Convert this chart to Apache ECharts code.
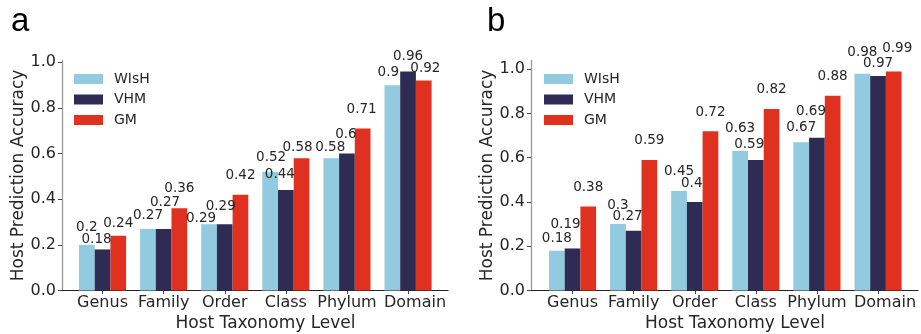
<!DOCTYPE html>
<html>
<head>
<meta charset="utf-8">
<script src="https://cdn.jsdelivr.net/npm/echarts@6/dist/echarts.min.js"></script>
<style>
  html, body { margin: 0; padding: 0; background: #fff; }
  #chart { width: 921px; height: 334px; }
</style>
</head>
<body>
<div id="chart"></div>
<script>
// data
const levels = ['Genus', 'Family', 'Order', 'Class', 'Phylum', 'Domain'];
const methods = ['WIsH', 'VHM', 'GM'];
const wishA = [0.2, 0.27, 0.29, 0.52, 0.58, 0.9];
const vhmA = [0.18, 0.27, 0.29, 0.44, 0.6, 0.96];
const gmA = [0.24, 0.36, 0.42, 0.58, 0.71, 0.92];
const wishB = [0.18, 0.3, 0.45, 0.63, 0.67, 0.98];
const vhmB = [0.19, 0.27, 0.4, 0.59, 0.69, 0.97];
const gmB = [0.38, 0.59, 0.72, 0.82, 0.88, 0.99];
const yTicks = [0, 0.2, 0.4, 0.6, 0.8, 1.0];

// label nudges [dx, height above bar top] in px, copied from the hand-placed labels
const nudgeA = [
  [[0, 12.7], [0, 8.4], [-8, 1.2], [1, 9.7], [-1, 6.1], [-4, 8.1]],
  [[-6, 4.7], [1.4, 21.7], [-4, 13.2], [-6, 10.7], [-1, 13.9], [0, 10.1]],
  [[0, 7.6], [0, 14.6], [0, 14.2], [-4, 6.1], [-1, 13.8], [1.6, 6.9]]
];
const nudgeB = [
  [[0, 6.8], [0, 13.6], [0, 14.4], [0, 17.9], [0, 9.7], [0, 16.4]],
  [[-7, 19.3], [-6, 9.2], [-3, 13.1], [-6.6, 10.8], [-6, 21.2], [0, 7.6]],
  [[0, 13.9], [0, 14.1], [0, 14], [0, 14.2], [0, 14.2], [3.5, 17.5]]
];

const colors = ['#92CBDF', '#2E2B55', '#E0301F'];
const FONT = 'DejaVu Sans';
const TXT = '#262626';

const chart = echarts.init(document.getElementById('chart'), null, { renderer: 'canvas' });

function outerAxes(gridIdx, yMax) {
  const x = {
    type: 'value', gridIndex: gridIdx, min: 0, max: 1,
    axisLine: { show: true, lineStyle: { color: '#222', width: 1.2 } },
    axisTick: { show: false }, axisLabel: { show: false }, splitLine: { show: false },
    name: 'Host Taxonomy Level', nameLocation: 'middle', nameGap: 25,
    nameTextStyle: { fontFamily: FONT, fontSize: 17, color: TXT, padding: [0, 0, 0, 21] }
  };
  const y = {
    type: 'value', gridIndex: gridIdx, min: 0, max: yMax,
    axisLine: { show: true, lineStyle: { color: '#999', width: 1.3 } },
    axisTick: { show: true, length: 4, customValues: yTicks, lineStyle: { color: '#444' } },
    axisLabel: { customValues: yTicks, margin: 6, fontFamily: FONT, fontSize: 16, color: TXT,
                 formatter: v => v.toFixed(1) },
    splitLine: { show: false },
    name: 'Host Prediction Accuracy', nameLocation: 'middle', nameGap: 35,
    nameTextStyle: { fontFamily: FONT, fontSize: 17, color: TXT }
  };
  return [x, y];
}

function innerAxes(gridIdx, yMax) {
  const x = {
    type: 'category', gridIndex: gridIdx, data: levels,
    axisLine: { show: false },
    axisTick: { show: true, interval: 0, alignWithLabel: true, length: 3.5, lineStyle: { color: '#444' } },
    axisLabel: {
      interval: 0, margin: 4, fontFamily: FONT, fontSize: 16, color: TXT,
      // the last label sits a little right of its tick in the original
      formatter: v => (v === 'Domain' ? '{d|' + v + '}' : v),
      rich: { d: { fontFamily: FONT, fontSize: 16, color: TXT, padding: [0, 0, 0, 14] } }
    }
  };
  const y = { type: 'value', gridIndex: gridIdx, min: 0, max: yMax, show: false };
  return [x, y];
}

function barSeries(name, values, nudges, color, axisIdx) {
  return {
    name: name, type: 'bar', xAxisIndex: axisIdx, yAxisIndex: axisIdx,
    barWidth: '25.7%', barGap: '0%',
    itemStyle: { color: color },
    data: values.map((v, i) => ({
      value: v,
      label: { offset: [nudges[i][0], -(nudges[i][1] - 2)] }
    })),
    label: {
      show: true, position: 'top', distance: 0,
      fontFamily: FONT, fontSize: 13.5, color: TXT,
      formatter: p => String(p.value)
    }
  };
}

const aOuter = outerAxes(0, 1.008), aInner = innerAxes(1, 1.008);
const bOuter = outerAxes(2, 1.0395), bInner = innerAxes(3, 1.0395);

const legendBase = {
  orient: 'vertical', padding: 0, top: 72,
  itemWidth: 29, itemHeight: 10, itemGap: 6.5,
  icon: 'rect', data: methods,
  formatter: n => '{t|' + n + '}',
  textStyle: {
    fontFamily: FONT, fontSize: 14, color: TXT,
    rich: { t: { fontFamily: FONT, fontSize: 14, color: TXT, padding: [0, 0, 0, 6] } }
  }
};

const gridBase = { top: 60.5, bottom: 43.5, outerBoundsMode: 'none', containLabel: false };

const option = {
  animation: false,
  backgroundColor: '#fff',
  color: colors,
  title: [
    { text: 'a', left: 11, top: 5, padding: 0,
      textStyle: { fontFamily: 'Liberation Sans', fontSize: 33, fontWeight: 'normal', color: '#000' } },
    { text: 'b', left: 487, top: 5, padding: 0,
      textStyle: { fontFamily: 'Liberation Sans', fontSize: 33, fontWeight: 'normal', color: '#000' } }
  ],
  legend: [
    Object.assign({}, legendBase, { left: 74 }),
    Object.assign({}, legendBase, { left: 544 })
  ],
  grid: [
    Object.assign({ left: 62, right: 473 }, gridBase),
    Object.assign({ left: 72, right: 482.4 }, gridBase),
    Object.assign({ left: 531, right: 3 }, gridBase),
    Object.assign({ left: 542, right: 12.4 }, gridBase)
  ],
  xAxis: [aOuter[0], aInner[0], bOuter[0], bInner[0]],
  yAxis: [aOuter[1], aInner[1], bOuter[1], bInner[1]],
  series: [
    barSeries('WIsH', wishA, nudgeA[0], colors[0], 1),
    barSeries('VHM', vhmA, nudgeA[1], colors[1], 1),
    barSeries('GM', gmA, nudgeA[2], colors[2], 1),
    barSeries('WIsH', wishB, nudgeB[0], colors[0], 3),
    barSeries('VHM', vhmB, nudgeB[1], colors[1], 3),
    barSeries('GM', gmB, nudgeB[2], colors[2], 3)
  ]
};

chart.setOption(option);
</script>
</body>
</html>
